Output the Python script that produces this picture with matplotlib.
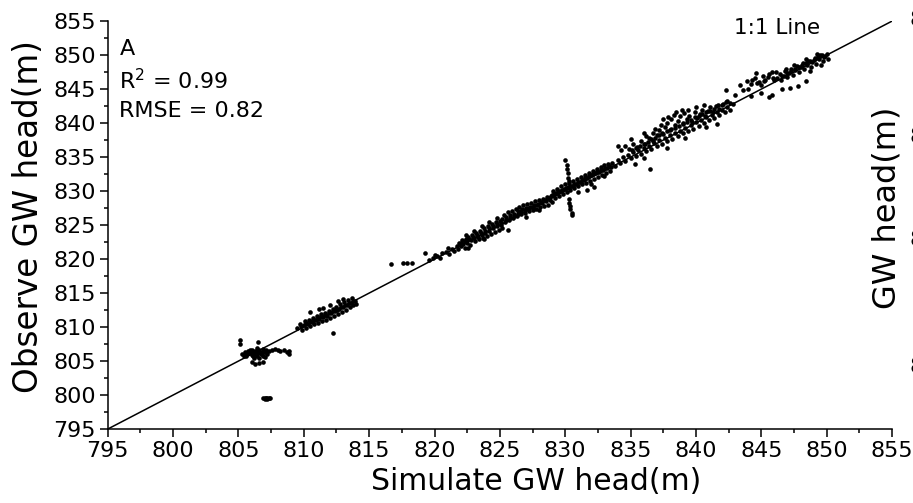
import matplotlib.pyplot as plt
import numpy as np

# simulated (x) vs observed (y) heads, read off the picture cluster by cluster
low_cluster = [(805.3,806.0),(805.5,806.3),(805.6,805.8),(805.8,806.2),(805.9,806.6),(806.0,805.9),
               (806.1,806.3),(806.2,806.0),(806.3,806.5),(806.4,805.7),(806.5,806.2),(806.6,806.6),
               (806.7,806.0),(806.8,806.4),(806.9,805.8),(807.0,806.3),(807.1,806.7),(807.2,806.1),
               (807.3,806.5),(805.7,806.5),(806.0,806.7),(806.4,806.9),(806.9,806.8),(805.4,805.7),
               (806.2,805.5),(806.6,805.4),(807.0,805.6),(806.0,804.8),(806.3,804.6),(806.6,804.7),
               (806.9,804.8),(805.1,808.1),(805.1,807.5),(806.5,807.8),(807.6,806.6),(807.8,806.8),
               (808.0,806.6),(808.2,806.5),(808.5,806.7),(808.7,806.4),(808.9,806.5),(808.9,806.1),
               (805.6,806.1),(805.9,806.4),(806.2,806.2),(806.5,806.5),(806.8,806.1),(807.1,806.4),
               (806.4,806.3),(806.1,805.7)]
outlier_blob = [(806.9,799.5),(807.0,799.4),(807.1,799.6),(807.2,799.5),(807.3,799.5),
                (807.4,799.6),(807.0,799.6),(807.2,799.4)]
cluster_810 = [(809.5,809.8),(809.7,810.4),(809.9,809.6),(810.0,810.3),(810.1,810.9),(810.2,809.9),
               (810.3,810.5),(810.4,811.1),(810.5,810.2),(810.5,812.2),(810.6,810.8),(810.7,811.4),
               (810.8,810.4),(810.9,811.0),(811.0,811.6),(811.1,810.6),(811.2,811.2),(811.3,811.9),
               (811.4,810.9),(811.5,811.5),(811.6,812.1),(811.7,811.0),(811.8,811.7),(811.9,812.4),
               (812.0,811.3),(812.1,812.0),(812.2,812.7),(812.2,809.1),(812.3,811.6),(812.4,812.3),
               (812.5,813.0),(812.6,811.9),(812.7,812.6),(812.8,813.4),(812.9,812.2),(813.0,813.0),
               (813.1,813.7),(813.2,812.5),(813.3,813.3),(813.4,814.0),(813.5,812.9),(813.6,813.6),
               (813.7,814.3),(813.8,813.2),(813.9,813.8),(814.0,813.4),(811.2,812.6),(812.0,813.3),
               (813.0,814.2),(809.8,810.1),(810.15,810.6),(810.45,810.9),(810.75,811.1),
               (811.05,811.3),(811.35,811.6),(811.65,811.8),(811.95,812.1),(812.25,812.3),
               (812.55,812.5),(812.85,812.9),(813.15,813.2),(813.45,813.6),(813.75,813.8),
               (811.5,812.8),(812.6,813.8)]
cluster_820 = [(816.7,819.3),(817.6,819.4),(817.9,819.4),(818.3,819.4),(819.3,820.9),
               (819.6,819.9),(819.9,820.2),(820.2,820.5),(820.4,820.2),(820.6,820.9),(820.9,821.1),
               (821.1,820.8),(821.3,821.5),(821.5,821.2),(821.7,821.9),(820.0,820.6),(821.0,821.6)]
cluster_823 = [(821.8,821.5),(821.9,822.4),(822.0,821.9),(822.1,822.8),(822.2,822.2),(822.3,821.7),
               (822.4,822.9),(822.5,822.4),(822.6,823.3),(822.7,822.0),(822.8,822.8),(822.9,823.6),
               (823.0,823.1),(823.1,822.6),(823.2,823.9),(823.3,823.3),(823.4,822.9),(823.5,824.2),
               (823.6,823.6),(823.7,823.1),(823.8,824.5),(823.9,823.9),(824.0,823.4),(824.1,824.8),
               (824.2,824.2),(824.3,823.7),(824.4,825.1),(824.5,824.5),(824.6,824.0),(824.7,825.4),
               (824.8,824.8),(824.9,824.3),(825.0,825.6),(825.1,825.0),(825.2,824.6),(822.4,823.5),
               (823.0,824.2),(823.6,824.8),(824.2,825.4),(824.8,826.1),(823.8,823.0),(822.6,821.6),
               (822.05,822.3),(822.35,822.6),(822.65,822.9),(822.95,823.3),(823.25,823.6),
               (823.55,823.9),(823.85,824.2),(824.15,824.5),(824.45,824.8),(824.75,825.1),
               (825.05,825.3)]
cluster_827 = [(825.2,825.9),(825.3,826.5),(825.4,825.4),(825.5,826.2),(825.6,826.9),(825.6,824.3),
               (825.7,825.8),(825.8,826.5),(825.9,827.1),(826.0,826.0),(826.1,826.7),(826.2,827.4),
               (826.3,826.3),(826.4,827.0),(826.5,827.7),(826.6,826.6),(826.7,827.3),(826.8,827.9),
               (826.9,826.8),(827.0,827.5),(827.1,828.1),(827.2,827.0),(827.3,827.7),(827.4,828.3),
               (827.5,827.2),(827.6,827.9),(827.7,828.5),(827.8,827.4),(827.9,828.1),(828.0,828.7),
               (828.1,827.6),(828.2,828.3),(828.3,828.9),(828.4,827.8),(828.5,828.5),(828.6,829.1),
               (828.7,828.0),(828.8,828.7),(828.9,829.3),(829.0,828.4),(827.0,826.2),(828.0,827.2),
               (825.45,825.8),(825.75,826.1),(826.05,826.4),(826.35,826.7),(826.65,827.0),
               (826.95,827.2),(827.25,827.5),(827.55,827.6),(827.85,828.0),(828.15,828.4),
               (828.45,828.7),(828.75,829.0)]
spike_830 = [(830.0,834.6),(830.1,833.8),(830.1,833.2),(830.2,832.6),(830.2,832.0),(830.3,831.5),
             (830.3,828.8),(830.3,828.3),(830.4,827.8),(830.4,827.3),(830.5,826.8),(830.5,826.5)]
cluster_831 = [(829.0,829.4),(829.1,830.0),(829.2,829.0),(829.3,829.7),(829.4,830.3),(829.5,829.3),
               (829.6,830.0),(829.7,830.7),(829.8,829.6),(829.9,830.3),(830.0,831.0),(830.1,829.9),
               (830.2,830.6),(830.3,831.2),(830.4,830.1),(830.5,830.8),(830.6,831.5),(830.7,830.4),
               (830.8,831.1),(830.9,831.8),(831.0,830.7),(831.1,831.4),(831.2,832.1),(831.3,831.0),
               (831.4,831.7),(831.5,832.4),(831.6,831.2),(831.7,832.0),(831.8,832.7),(831.9,831.5),
               (832.0,832.3),(832.1,833.0),(832.2,831.8),(832.3,832.6),(832.4,833.3),(832.5,832.1),
               (832.6,832.8),(832.7,833.5),(832.8,832.4),(832.9,833.1),(833.0,833.8),(833.1,832.7),
               (833.2,833.4),(833.3,834.0),(833.4,833.0),(833.5,833.6),(831.0,829.9),(832.0,831.1),
               (833.0,832.2),(831.7,830.2),(832.2,830.6),
               (829.15,829.6),(829.45,829.9),(829.75,830.2),(830.05,830.5),(830.35,830.8),
               (830.65,831.0),(830.95,831.3),(831.25,831.6),(831.55,831.9),(831.85,832.2),
               (832.15,832.5),(832.45,832.8),(832.75,833.1),(833.05,833.4),(833.35,833.7)]
cluster_838 = [(833.6,834.2),(833.8,833.7),(834.0,834.6),(834.2,834.1),(834.4,835.0),(834.6,834.5),
               (834.8,835.3),(835.0,834.8),(835.2,835.7),(835.4,835.2),(835.6,836.0),(835.8,835.5),
               (836.0,836.4),(836.2,835.9),(836.4,836.7),(836.6,836.2),(836.8,837.1),(837.0,836.6),
               (837.2,837.5),(837.4,837.0),(837.6,837.8),(837.8,837.3),(838.0,838.2),(838.2,837.7),
               (838.4,838.6),(838.6,838.1),(838.8,838.9),(839.0,838.5),(839.2,839.3),(839.4,838.9),
               (839.6,839.7),(839.8,839.2),(840.0,840.1),(840.2,839.6),(840.4,840.5),(840.6,840.0),
               (840.8,840.9),(841.0,840.4),(841.2,841.2),(841.4,840.8),(841.6,841.6),(841.8,841.2),
               (842.0,842.0),(842.2,841.6),(842.4,842.4),(842.6,842.0),(842.8,842.8),
               (834.3,836.0),(834.6,836.6),(834.9,836.2),(835.2,836.9),(835.5,836.5),(835.8,837.3),
               (836.1,837.0),(836.4,837.8),(836.7,837.4),(836.7,838.6),(837.0,838.2),(837.2,839.0),
               (837.4,838.5),(837.6,839.4),(837.8,840.0),(838.0,839.0),(838.1,840.6),(838.3,841.2),
               (838.4,839.7),(838.6,840.3),(838.8,841.0),(839.0,839.8),(839.1,841.5),(839.3,840.6),
               (839.5,841.1),(839.7,840.2),(839.9,841.7),(840.1,840.8),(840.3,841.4),(840.5,842.0),
               (840.7,841.1),(840.9,841.8),(841.1,842.3),(841.3,841.6),(841.5,842.5),(841.8,842.1),
               (842.1,842.8),(842.4,843.2),(837.5,840.6),(838.9,842.0),(836.5,833.2),(835.3,834.0),
               (836.0,834.8),(837.8,836.4),(839.2,837.8),(840.8,839.4),(841.6,839.8),(834.0,836.6),
               (835.0,837.6),
               (835.1,836.1),(835.4,836.3),(835.7,836.6),(836.0,837.0),(836.3,837.2),(836.6,837.6),
               (836.9,837.8),(837.2,838.2),(837.5,838.4),(837.8,838.8),(838.1,839.1),(838.4,839.3),
               (838.7,839.6),(839.0,840.0),(839.3,840.2),(839.6,840.5),(839.9,840.9),(840.2,841.0),
               (840.5,841.3),(840.8,841.7),(841.1,841.8),(841.4,842.1),(841.7,842.6),(842.0,842.6),
               (842.3,843.1),(842.6,843.0),(836.2,838.1),(836.9,839.2),(837.3,839.7),(837.9,840.9),
               (838.5,841.6),(839.4,842.0),(840.0,842.3),(840.6,842.6),(836.0,838.5)]
cluster_845 = [(842.3,844.8),(843.0,844.2),(843.6,844.9),(844.2,844.0),(843.4,845.6),(843.9,846.2),
               (844.2,845.7),(844.5,846.6),(844.8,846.1),(845.1,847.0),(845.3,846.4),(845.6,847.2),
               (845.9,846.7),(846.1,847.5),(844.6,847.3),(845.0,845.6),(844.0,845.0),(845.0,844.5),
               (845.8,844.2),(846.6,845.0),(847.2,845.2),(847.8,845.5),(848.4,846.2),(845.6,843.9),
               (844.3,846.3),(844.7,845.9),(845.2,846.2),(845.5,846.8),(845.8,847.5),(846.0,846.3)]
cluster_848 = [(846.2,846.6),(846.4,847.2),(846.5,846.3),(846.7,847.0),(846.8,847.6),(847.0,846.8),
               (847.1,847.4),(847.3,848.0),(847.4,847.1),(847.6,847.8),(847.7,848.4),(847.9,847.5),
               (848.0,848.2),(848.2,848.8),(848.3,847.9),(848.5,848.6),(848.6,849.2),(848.8,848.3),
               (848.9,849.0),(849.1,849.6),(849.2,848.7),(849.4,849.4),(849.5,850.0),(849.7,849.1),
               (849.8,849.7),(850.0,850.2),(849.3,850.1),(848.4,849.4),(847.5,848.6),(846.9,848.0),
               (848.7,847.7),(849.6,848.6),(850.1,849.5),
               (846.6,846.9),(846.95,847.3),(847.25,847.6),(847.55,847.9),(847.85,848.2),
               (848.15,848.5),(848.45,848.9),(848.75,849.1),(849.05,849.3),(849.35,849.7),
               (849.65,850.0),(849.9,849.9)]

clusters = [low_cluster, outlier_blob, cluster_810, cluster_820, cluster_823, cluster_827,
            spike_830, cluster_831, cluster_838, cluster_845, cluster_848]
pts = np.array([p for c in clusters for p in c])

fig = plt.figure(figsize=(9.13, 5.03), dpi=100)
ax = fig.add_axes([0.118, 0.147, 0.859, 0.811])

ax.plot([795, 855], [795, 855], color="black", lw=1.1)
ax.scatter(pts[:, 0], pts[:, 1], s=11, color="black", linewidths=0)

ax.set_xlim(795, 855)
ax.set_ylim(795, 855)
ax.set_xticks(np.arange(795, 856, 5))
ax.set_yticks(np.arange(795, 856, 5))
ax.set_xticks(np.arange(797.5, 855, 5), minor=True)
ax.set_yticks(np.arange(797.5, 855, 5), minor=True)
ax.tick_params(which="major", direction="out", length=5.5, width=1.1, labelsize=16, pad=3)
ax.tick_params(which="minor", direction="out", length=3, width=1.1)
for s in ["top", "right"]:
    ax.spines[s].set_visible(False)
for s in ["left", "bottom"]:
    ax.spines[s].set_linewidth(1.1)

ax.set_xlabel("Simulate GW head(m)", fontsize=21.5)
ax.xaxis.set_label_coords(0.546, -0.093)
ax.set_ylabel("Observe GW head(m)", fontsize=23.5)
ax.yaxis.set_label_coords(-0.08, 0.52)

ax.text(0.015, 0.931, "A", transform=ax.transAxes, fontsize=16, va="center")
ax.text(0.015, 0.855, "R$^2$ = 0.99", transform=ax.transAxes, fontsize=16, va="center")
ax.text(0.015, 0.779, "RMSE = 0.82", transform=ax.transAxes, fontsize=16, va="center")
ax.text(0.799, 0.983, "1:1 Line", transform=ax.transAxes, fontsize=15.5, va="center")

# neighbouring panel peeking in at the right edge
fig.text(887 / 913, 1 - 208 / 503, "GW head(m)", rotation=90, fontsize=23,
         ha="center", va="center")
for yy in [20, 137, 240, 367]:
    fig.text(909 / 913, 1 - yy / 503, "850", fontsize=16, ha="left", va="center")

fig.savefig("out.png", dpi=100)
